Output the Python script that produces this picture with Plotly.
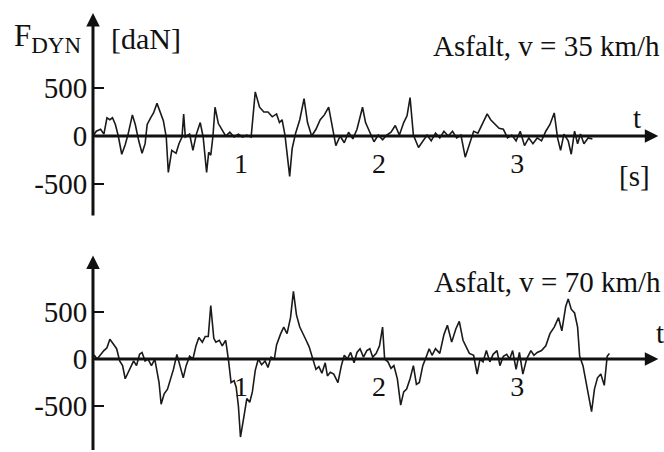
import plotly.graph_objects as go

# ---------------- data ----------------
# time [s]
t_35 = [-0.07, -0.046, -0.015, 0.009, 0.031, 0.052, 0.071, 0.092, 0.113, 0.138,
        0.163, 0.184, 0.215, 0.236, 0.261, 0.285, 0.307, 0.322, 0.347, 0.368,
        0.393, 0.414, 0.439, 0.46, 0.475, 0.5, 0.531, 0.552, 0.574, 0.586,
        0.598, 0.629, 0.653, 0.678, 0.706, 0.727, 0.752, 0.767, 0.782, 0.798,
        0.813, 0.837, 0.859, 0.89, 0.92, 0.951, 0.982, 1.012, 1.043, 1.074,
        1.104, 1.135, 1.166, 1.196, 1.227, 1.258, 1.279, 1.298, 1.319, 1.334,
        1.353, 1.371, 1.396, 1.426, 1.457, 1.482, 1.512, 1.543, 1.574, 1.604,
        1.635, 1.656, 1.687, 1.718, 1.748, 1.779, 1.81, 1.84, 1.88, 1.902,
        1.933, 1.963, 1.994, 2.025, 2.055, 2.086, 2.117, 2.147, 2.178, 2.202,
        2.224, 2.248, 2.285, 2.316, 2.347, 2.377, 2.408, 2.439, 2.469, 2.5,
        2.531, 2.561, 2.592, 2.623, 2.653, 2.684, 2.715, 2.745, 2.782, 2.807,
        2.837, 2.868, 2.899, 2.929, 2.96, 2.991, 3.021, 3.052, 3.083, 3.113,
        3.144, 3.175, 3.206, 3.236, 3.267, 3.291, 3.313, 3.337, 3.368, 3.39,
        3.414, 3.436, 3.457, 3.482, 3.512, 3.543]
# F_DYN [daN], asphalt, v = 35 km/h
f_35 = [0, 50, 70, 20, 190, 170, 190, 120, 0, -190,
        -90, 20, 220, 120, -50, -180, -80, 120, 190, 240,
        340, 260, 160, -10, -380, -150, -180, -80, -10, 230,
        -10, 20, -150, 20, 140, -10, -380, -170, -200, 0,
        300, 130, 80, 0, 40, -10, 20, -10, 10, -10,
        460, 300, 250, 250, 200, 230, 140, 170, 10, -170,
        -420, -130, 30, 170, 390, 140, 0, 70, 170, 220,
        300, 140, -100, 0, -70, 40, -30, 70, 300, 140,
        40, -60, 10, -40, 10, 40, 110, 10, 140, 210,
        400, 10, -120, -50, 10, -50, 30, -20, 50, 0,
        50, -20, 10, -220, -90, 50, 30, 120, 230, 170,
        120, 80, 70, -20, 10, -50, 50, -100, -20, -80,
        -20, -50, 50, 120, 240, -20, -150, 20, -50, -190,
        50, -80, 20, -80, -20, -30]

t_70 = [-0.07, -0.061, -0.04, -0.015, 0.009, 0.031, 0.052, 0.077, 0.101, 0.123,
        0.144, 0.163, 0.184, 0.206, 0.224, 0.245, 0.267, 0.285, 0.307, 0.328,
        0.353, 0.377, 0.408, 0.423, 0.445, 0.469, 0.491, 0.512, 0.537, 0.561,
        0.583, 0.604, 0.629, 0.653, 0.675, 0.696, 0.721, 0.742, 0.764, 0.782,
        0.804, 0.819, 0.844, 0.865, 0.89, 0.911, 0.929, 0.951, 0.966, 0.982,
        0.997, 1.021, 1.043, 1.064, 1.083, 1.104, 1.126, 1.15, 1.175, 1.196,
        1.218, 1.242, 1.258, 1.288, 1.31, 1.334, 1.359, 1.38, 1.402, 1.426,
        1.451, 1.472, 1.494, 1.518, 1.543, 1.564, 1.586, 1.61, 1.626, 1.647,
        1.672, 1.702, 1.727, 1.748, 1.77, 1.794, 1.819, 1.84, 1.862, 1.887,
        1.911, 1.933, 1.954, 1.979, 2.003, 2.025, 2.04, 2.064, 2.086, 2.107,
        2.132, 2.156, 2.178, 2.199, 2.224, 2.248, 2.27, 2.291, 2.316, 2.34,
        2.362, 2.383, 2.408, 2.439, 2.469, 2.494, 2.525, 2.555, 2.58, 2.607,
        2.632, 2.653, 2.684, 2.709, 2.73, 2.752, 2.776, 2.801, 2.825, 2.853,
        2.874, 2.899, 2.923, 2.945, 2.966, 2.991, 3.015, 3.04, 3.067, 3.098,
        3.12, 3.144, 3.175, 3.206, 3.236, 3.267, 3.298, 3.322, 3.35, 3.368,
        3.39, 3.414, 3.436, 3.451, 3.475, 3.497, 3.518, 3.537, 3.558, 3.58,
        3.604, 3.629, 3.65, 3.666]
# F_DYN [daN], asphalt, v = 70 km/h
f_70 = [0, 40, 0, 50, 90, 120, 210, 160, 110, -20,
        -70, -210, -140, -70, -20, -70, 50, 70, -20, 0,
        -70, 0, -250, -480, -370, -320, -210, -110, 50, -90,
        -200, -70, 30, 0, 140, 230, 180, 240, 240, 570,
        220, 180, 200, 140, 200, -20, -250, -230, -300, -500,
        -830, -620, -420, -460, -350, -120, 0, -60, -20, -90,
        20, 0, 150, 270, 340, 270, 440, 720, 470, 340,
        270, 200, 130, 10, -110, -80, -150, -40, -180, -140,
        -160, -250, -70, 40, 0, 70, -40, 70, 110, 20,
        90, 110, 20, 60, 140, 340, 0, -30, -100, -70,
        -210, -490, -350, -320, -210, -70, -270, -250, -70, 20,
        110, 40, 110, 60, 260, 360, 180, 320, 400, 200,
        130, 60, 40, -160, 0, -30, 90, -30, 50, 90,
        -70, 30, 50, 0, 90, -110, 70, -160, 0, 90,
        40, 70, 90, 140, 270, 340, 440, 300, 560, 640,
        530, 490, 340, 30, -70, -250, -430, -560, -320, -200,
        -160, -280, 30, 60]

y_ticks = [-500, 0, 500]
y_ticktext = ["-500", "0", "500"]
x_ticks = [1, 2, 3]
x_ticktext = ["1", "2", "3"]
label_35 = "Asfalt, v = 35 km/h"
label_70 = "Asfalt, v = 70 km/h"

# ---------------- figure ----------------
W, H = 664, 452
FONT = "Liberation Serif, Times New Roman, serif"
INK = "#111111"

X_RANGE = [-0.075, 4.03]
X_DOMAIN = [92.3 / W, 659.7 / W]
Y1_RANGE = [-850, 1290]
Y1_DOMAIN = [1 - 217.6 / H, 1 - 12.2 / H]
Y2_RANGE = [-989, 1110]
Y2_DOMAIN = [0, 1 - 254.7 / H]

fig = go.Figure()
fig.add_trace(go.Scatter(x=t_35, y=f_35, mode="lines", xaxis="x", yaxis="y",
                         line=dict(color="#1a1a1a", width=1.6), showlegend=False,
                         hoverinfo="skip"))
fig.add_trace(go.Scatter(x=t_70, y=f_70, mode="lines", xaxis="x2", yaxis="y2",
                         line=dict(color="#1a1a1a", width=1.6), showlegend=False,
                         hoverinfo="skip"))


def y0_paper(rng, dom):
    return dom[0] + (0 - rng[0]) / (rng[1] - rng[0]) * (dom[1] - dom[0])


xaxis_common = dict(range=X_RANGE, domain=X_DOMAIN, showgrid=False, zeroline=False,
                    showline=False, tickvals=x_ticks, ticktext=x_ticktext,
                    ticks="", ticklabelstandoff=8,
                    tickfont=dict(family=FONT, size=28, color=INK), fixedrange=True)
yaxis_common = dict(showgrid=False, zeroline=False, showline=False,
                    tickvals=y_ticks, ticktext=y_ticktext, ticks="inside",
                    ticklen=12, tickwidth=1.6, tickcolor=INK, ticklabelstandoff=4,
                    tickfont=dict(family=FONT, size=29, color=INK), fixedrange=True)

fig.update_layout(
    width=W, height=H, margin=dict(l=0, r=0, t=0, b=0),
    paper_bgcolor="white", plot_bgcolor="white",
    xaxis=dict(**xaxis_common, anchor="free", position=y0_paper(Y1_RANGE, Y1_DOMAIN)),
    yaxis=dict(**yaxis_common, range=Y1_RANGE, domain=Y1_DOMAIN, anchor="x"),
    xaxis2=dict(**xaxis_common, anchor="free", position=y0_paper(Y2_RANGE, Y2_DOMAIN)),
    yaxis2=dict(**yaxis_common, range=Y2_RANGE, domain=Y2_DOMAIN, anchor="x2"),
)

arrow = dict(text="", showarrow=True, arrowhead=2, arrowsize=0.9, arrowwidth=3,
             arrowcolor=INK, standoff=0, startstandoff=0)
# axis arrows
fig.add_annotation(x=-0.07, y=1282, ax=-0.07, ay=-845, xref="x", yref="y",
                   axref="x", ayref="y", **arrow)
fig.add_annotation(x=4.02, y=0, ax=-0.07, ay=0, xref="x", yref="y",
                   axref="x", ayref="y", **arrow)
fig.add_annotation(x=-0.07, y=1102, ax=-0.07, ay=-985, xref="x2", yref="y2",
                   axref="x2", ayref="y2", **arrow)
fig.add_annotation(x=4.02, y=0, ax=-0.07, ay=0, xref="x2", yref="y2",
                   axref="x2", ayref="y2", **arrow)


def txt(s, px, py, size=29, xanchor="center"):
    fig.add_annotation(text=s, x=px / W, y=1 - py / H, xref="paper", yref="paper",
                       showarrow=False, xanchor=xanchor, yanchor="middle",
                       font=dict(family=FONT, size=size, color=INK))


txt("F<sub><span style='font-size:23px'>DYN</span></sub>", 12, 38, size=31, xanchor="left")
txt("[daN]", 109, 38, size=30, xanchor="left")
txt(label_35, 662, 46, size=29, xanchor="right")
txt(label_70, 663, 282, size=29, xanchor="right")
txt("t", 637, 118, size=29)
txt("[s]", 634, 176, size=29)
txt("t", 660, 333, size=29)

fig.write_html("out.html")
